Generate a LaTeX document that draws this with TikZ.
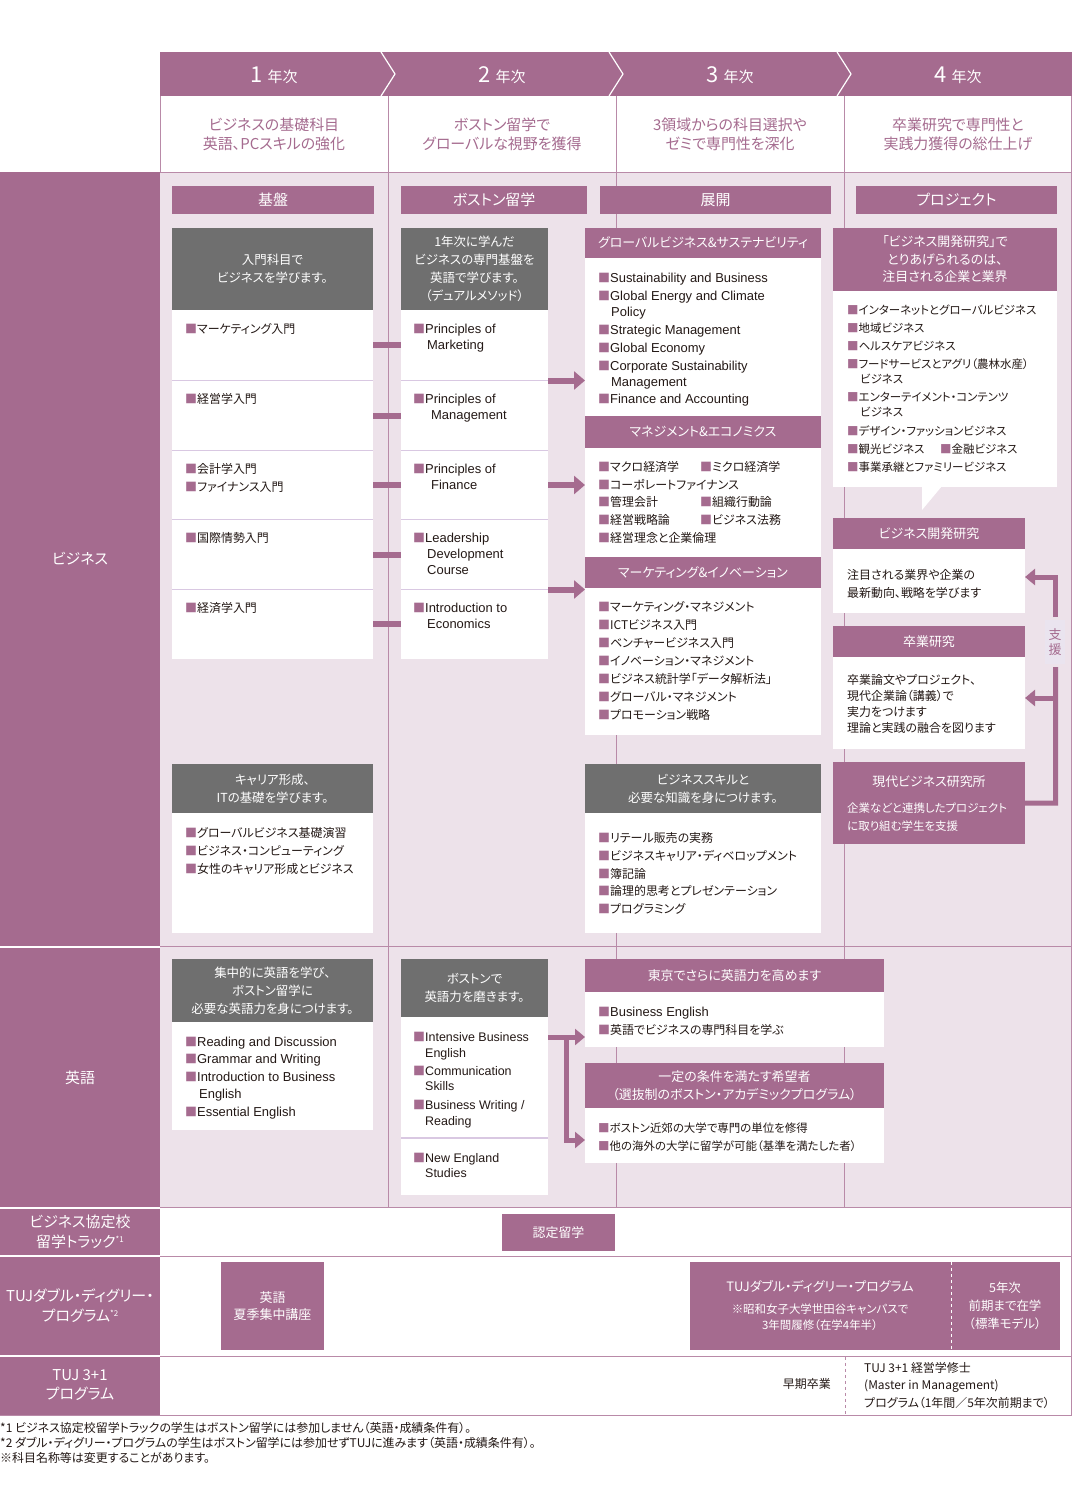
\documentclass[tikz,border=0pt]{standalone}
\usepackage{fontspec}
\setmainfont{Noto Sans CJK JP}[RawFeature=+palt]
\newfontfamily\enf{Liberation Sans}
\usetikzlibrary{arrows.meta,calc}
\definecolor{pur}{HTML}{A56B8F}
\definecolor{bgp}{HTML}{EDE2EA}
\definecolor{gry}{HTML}{6F6F6F}
\definecolor{sepc}{HTML}{D9C8E2}
\definecolor{gridc}{HTML}{B98AA8}
\definecolor{txt}{HTML}{231815}
\definecolor{shien}{HTML}{EAE4EF}
\newcommand\fsz[2]{\fontsize{#1}{#2}\selectfont}
\newcommand\bu{\textcolor{pur}{■}}
\newcommand\en{\enf\fontsize{13}{13}\selectfont}
\newcommand\ens{\enf\fontsize{12.5}{12.5}\selectfont}
\newcommand\bx[7]{\node[#6,inner sep=0pt,outer sep=0pt,anchor=north west,minimum width={#4bp-#2bp},minimum height={#5bp-#3bp}] (#1) at (#2,#3) {#7};}
\newcommand\lst[3][]{\foreach[count=\i] \xx/\yy/\tx in {#3} {\node[itm,#1] (#2-\i) at (\xx,\yy) {\tx};}}
\begin{document}
\begin{tikzpicture}[x=1bp,y=-1bp,
 itm/.style={anchor=west,inner sep=0pt,text=txt,font=\fsz{12}{12},text height=8bp,text depth=0bp},
 phd/.style={fill=pur,text=white,align=center,font=\fsz{15}{19}},
 phb/.style={fill=pur,text=white,align=center,font=\fsz{13}{17.5}},
 ghd/.style={fill=gry,text=white,align=center,font=\fsz{12.5}{18}},
 wb/.style={fill=white},
 gline/.style={draw=gridc,line width=1bp},
 sline/.style={draw=sepc,line width=1.2bp},
 bar/.style={draw=pur,line width=6bp},
 arr/.style={draw=pur,line width=6bp,-{Triangle[length=11bp,width=18bp]}},
 conn/.style={draw=pur,line width=5bp},
 carr/.style={draw=pur,line width=5bp,-{Triangle[length=10bp,width=16bp]}},
 lab/.style={text=white,align=center,font=\fsz{15}{20},inner sep=0pt},
 sub/.style={text=pur,align=center,font=\fsz{15}{19},inner sep=0pt},
]
\useasboundingbox (0,0) rectangle (1072,1498);
\fill[white] (0,0) rectangle (1072,1498);
% body background and left labels
\fill[bgp] (160,172) rectangle (1072,1207);
\fill[pur] (0,172) rectangle (160,946);
\fill[pur] (0,948) rectangle (160,1207);
\fill[pur] (0,1209) rectangle (160,1255);
\fill[pur] (0,1257) rectangle (160,1355);
\fill[pur] (0,1357) rectangle (160,1415);
% grid lines
\draw[gline] (160.5,96) -- (160.5,172);
\foreach \gx in {388,616,844} \draw[gline] (\gx,96) -- (\gx,1207);
\draw[gline] (1071.5,96) -- (1071.5,1415);
\draw[gline] (160,172.5) -- (1072,172.5);
\draw[gline] (160,946.5) -- (1072,946.5);
\draw[gline] (160,1207.5) -- (1072,1207.5);
\draw[gline] (160,1256) -- (1072,1256);
\draw[gline] (160,1356) -- (1072,1356);
\draw[gline] (0,1415.5) -- (1072,1415.5);
% header band
\fill[pur] (160,52) rectangle (1072,96);
\foreach \d in {388,616,844} \draw[white,line width=1.2bp] (\d-7,52) -- (\d+7,74) -- (\d-7,96);
\foreach \n/\cx in {1/274,2/502,3/730,4/958}
  \node[text=white,inner sep=0pt] (yr\n) at (\cx,75) {\fsz{22}{22}\n\hspace{5bp}\fsz{15}{15}年次};
\node[sub] (sub1) at (274,134) {ビジネスの基礎科目\\英語、PCスキルの強化};
\node[sub] (sub2) at (502,134) {ボストン留学で\\グローバルな視野を獲得};
\node[sub] (sub3) at (730,134) {3領域からの科目選択や\\ゼミで専門性を深化};
\node[sub] (sub4) at (958,134) {卒業研究で専門性と\\実践力獲得の総仕上げ};
% left labels
\node[lab] (lbiz) at (80,559) {ビジネス};
\node[lab] (leng) at (80,1078) {英語};
\node[lab] (lkyo) at (80,1232) {ビジネス協定校\\留学トラック\raisebox{5bp}{\fsz{8}{8}*1}};
\node[lab] (ltuj) at (80,1306) {TUJダブル・ディグリー・\\プログラム\raisebox{5bp}{\fsz{8}{8}*2}};
\node[lab] (l31) at (80,1385) {TUJ 3+1\\プログラム};
% section headers
\bx{hk}{172}{186}{374}{214}{phd}{基盤}
\bx{hb}{401}{186}{587}{214}{phd}{ボストン留学}
\bx{ht}{600}{186}{831}{214}{phd}{展開}
\bx{hp}{856}{186}{1057}{214}{phd}{プロジェクト}
% column 1 business
\bx{a0}{172}{228}{373}{310}{ghd}{入門科目で\\ビジネスを学びます。}
\bx{a1}{172}{310}{373}{380.5}{wb}{}
\bx{a2}{172}{380.5}{373}{450.5}{wb}{}
\bx{a3}{172}{450.5}{373}{519.5}{wb}{}
\bx{a4}{172}{519.5}{373}{589.5}{wb}{}
\bx{a5}{172}{589.5}{373}{659}{wb}{}
% column 2 business
\bx{b0}{401}{228}{548}{310}{ghd}{1年次に学んだ\\ビジネスの専門基盤を\\英語で学びます。\\（デュアルメソッド）}
\bx{b1}{401}{310}{548}{380.5}{wb}{}
\bx{b2}{401}{380.5}{548}{450.5}{wb}{}
\bx{b3}{401}{450.5}{548}{519.5}{wb}{}
\bx{b4}{401}{519.5}{548}{589.5}{wb}{}
\bx{b5}{401}{589.5}{548}{659}{wb}{}
\foreach \sy in {380.5,450.5,519.5,589.5} \draw[sline] (172,\sy) -- (373,\sy) (401,\sy) -- (548,\sy);
\foreach \k in {1,...,5} \draw[bar] (a\k.east) -- (b\k.west);
% column 3 business
\bx{g1}{585}{228}{821}{258}{phb}{グローバルビジネス\&サステナビリティ}
\bx{g1b}{585}{258}{821}{416}{wb}{}
\bx{g2}{585}{416}{821}{448}{phb}{マネジメント\&エコノミクス}
\bx{g2b}{585}{448}{821}{557}{wb}{}
\bx{g3}{585}{557}{821}{588}{phb}{マーケティング\&イノベーション}
\bx{g3b}{585}{588}{821}{735}{wb}{}
\draw[arr] (b1.south east) -- (b1.south east -| g1b.west);
\draw[arr] (b3.east) -- (b3.east -| g2b.west);
\draw[arr] (b4.south east) -- (b4.south east -| g3b.west);
% lower business boxes
\bx{k0}{172}{764}{373}{813}{ghd}{キャリア形成、\\ITの基礎を学びます。}
\bx{k1}{172}{813}{373}{933}{wb}{}
\bx{s0}{585}{764}{821}{813}{ghd}{ビジネススキルと\\必要な知識を身につけます。}
\bx{s1}{585}{813}{821}{933}{wb}{}
% column 4
\bx{p0}{833}{228}{1057}{291}{phb}{「ビジネス開発研究」で\\とりあげられるのは、\\注目される企業と業界}
\bx{p1}{833}{291}{1057}{487}{wb}{}
\fill[white] (922,486) -- (922,510) -- (942,486) -- cycle;
\bx{q0}{833}{518}{1025}{549}{phb}{ビジネス開発研究}
\bx{q1}{833}{549}{1025}{613}{wb}{}
\bx{r0}{833}{626}{1025}{657}{phb}{卒業研究}
\bx{r1}{833}{657}{1025}{749}{wb}{}
\bx{m0}{833}{762}{1025}{844}{fill=pur}{}
\node[text=white,inner sep=0pt,font=\fsz{13}{13}] (mt) at (929,782) {現代ビジネス研究所};
\node[itm,text=white,font=\fsz{11.5}{11.5}] (mt1) at (847,808) {企業などと連携したプロジェクト};
\node[itm,text=white,font=\fsz{11.5}{11.5}] (mt2) at (847,826) {に取り組む学生を支援};
\coordinate (sp1) at (1055.5,803);
\draw[conn] (m0.east) -- (sp1) -- (1055.5,667);
\draw[carr] (1055.5,617) -- (1055.5,577) -- (q1.east |- 0,577);
\draw[carr] (1055.5,698) -- (r1.east |- 0,698);
\node[fill=shien,inner sep=0pt,minimum width=20bp,minimum height=44bp,text=pur,align=center,font=\fsz{13}{15}] (shien) at (1055,642) {支\\援};
% English section
\bx{e0}{172}{959}{373}{1022}{ghd}{集中的に英語を学び、\\ボストン留学に\\必要な英語力を身につけます。}
\bx{e1}{172}{1022}{373}{1130}{wb}{}
\bx{f0}{401}{959}{548}{1017}{ghd}{ボストンで\\英語力を磨きます。}
\bx{f1}{401}{1017}{548}{1138}{wb}{}
\bx{f2}{401}{1139}{548}{1195}{wb}{}
\draw[sline] (f1.south west) -- (f1.south east);
\bx{t0}{585}{959}{884}{992}{phb}{東京でさらに英語力を高めます}
\bx{t1}{585}{992}{884}{1047}{wb}{}
\bx{u0}{585}{1063}{884}{1108}{phb}{一定の条件を満たす希望者\\（選抜制のボストン・アカデミックプログラム）}
\bx{u1}{585}{1108}{884}{1163}{wb}{}
\coordinate (ea) at (548,1037);
\coordinate (eb) at (566,1037);
\draw[carr] (ea) -- (ea -| t1.west);
\draw[carr] (eb) -- (566,1140) -- (u1.west |- 0,1140);
% bottom rows
\bx{nt}{502}{1214}{615}{1251}{phb}{認定留学}
\bx{ks}{221}{1262}{324}{1350}{phb}{英語\\夏季集中講座}
\bx{dd}{690}{1262}{1060}{1350}{fill=pur}{}
\draw[white,dashed,line width=0.8bp] (951,1262) -- (951,1350);
\node[text=white,inner sep=0pt,font=\fsz{13}{13}] (dd1) at (820,1286) {TUJダブル・ディグリー・プログラム};
\node[text=white,inner sep=0pt,align=center,font=\fsz{11.5}{16}] (dd2) at (820,1317) {※昭和女子大学世田谷キャンパスで\\3年間履修（在学4年半）};
\node[text=white,inner sep=0pt,align=center,font=\fsz{12.5}{18}] (dd3) at (1005,1306) {5年次\\前期まで在学\\（標準モデル）};
\node[itm,anchor=east] (sk) at (831,1384) {早期卒業};
\draw[gridc,dashed,line width=0.8bp] (845,1357) -- (845,1415);
\lst{tm}{864/1368/{TUJ 3+1 経営学修士}, 864/1385/{(Master in Management)}, 864/1403/{プログラム（1年間／5年次前期まで）}}
% item lists
\lst{ai}{185/329/{\bu マーケティング入門}, 185/399/{\bu 経営学入門}, 185/469/{\bu 会計学入門}, 185/487/{\bu ファイナンス入門}, 185/538/{\bu 国際情勢入門}, 185/608/{\bu 経済学入門}}
\lst{bi}{413/329/{\bu\en Principles of}, 427/345/{\en Marketing}, 413/399/{\bu\en Principles of}, 431/415/{\en Management}, 413/469/{\bu\en Principles of}, 431/485/{\en Finance}, 413/538/{\bu\en Leadership}, 427/554/{\en Development}, 427/570/{\en Course}, 413/608/{\bu\en Introduction to}, 427/624/{\en Economics}}
\lst{gi}{598/278/{\bu\en Sustainability and Business}, 598/296/{\bu\en Global Energy and Climate}, 611/312/{\en Policy}, 598/330/{\bu\en Strategic Management}, 598/348/{\bu\en Global Economy}, 598/366/{\bu\en Corporate Sustainability}, 611/382/{\en Management}, 598/399/{\bu\en Finance and Accounting}}
\lst{mi}{598/467/{\bu マクロ経済学}, 700/467/{\bu ミクロ経済学}, 598/485/{\bu コーポレートファイナンス}, 598/502/{\bu 管理会計}, 700/502/{\bu 組織行動論}, 598/520/{\bu 経営戦略論}, 700/520/{\bu ビジネス法務}, 598/538/{\bu 経営理念と企業倫理}}
\lst{ni}{598/607/{\bu マーケティング・マネジメント}, 598/625/{\bu ICTビジネス入門}, 598/643/{\bu ベンチャービジネス入門}, 598/661/{\bu イノベーション・マネジメント}, 598/679/{\bu ビジネス統計学「データ解析法」}, 598/697/{\bu グローバル・マネジメント}, 598/715/{\bu プロモーション戦略}}
\lst{ki}{185/833/{\bu グローバルビジネス基礎演習}, 185/851/{\bu ビジネス・コンピューティング}, 185/869/{\bu 女性のキャリア形成とビジネス}}
\lst{si}{598/838/{\bu リテール販売の実務}, 598/856/{\bu ビジネスキャリア・ディベロップメント}, 598/874/{\bu 簿記論}, 598/891/{\bu 論理的思考とプレゼンテーション}, 598/909/{\bu プログラミング}}
\lst[font=\fsz{11.5}{11.5}]{pi}{847/310/{\bu インターネットとグローバルビジネス}, 847/328/{\bu 地域ビジネス}, 847/346/{\bu ヘルスケアビジネス}, 847/364/{\bu フードサービスとアグリ（農林水産）}, 860/379/{ビジネス}, 847/397/{\bu エンターテイメント・コンテンツ}, 860/412/{ビジネス}, 847/431/{\bu デザイン・ファッションビジネス}, 847/449/{\bu 観光ビジネス}, 940/449/{\bu 金融ビジネス}, 847/467/{\bu 事業承継とファミリービジネス}}
\lst{qi}{847/575/{注目される業界や企業の}, 847/593/{最新動向、戦略を学びます}}
\lst{ri}{847/680/{卒業論文やプロジェクト、}, 847/696/{現代企業論（講義）で}, 847/712/{実力をつけます}, 847/728/{理論と実践の融合を図ります}}
\lst{ei}{185/1042/{\bu\en Reading and Discussion}, 185/1059/{\bu\en Grammar and Writing}, 185/1077/{\bu\en Introduction to Business}, 199/1094/{\en English}, 185/1112/{\bu\en Essential English}}
\lst{fi}{413/1037/{\bu\ens Intensive Business}, 425/1053/{\ens English}, 413/1071/{\bu\ens Communication}, 425/1086/{\ens Skills}, 413/1105/{\bu\ens Business Writing /}, 425/1121/{\ens Reading}, 413/1158/{\bu\ens New England}, 425/1173/{\ens Studies}}
\lst{ti}{598/1012/{\bu\en Business English}, 598/1030/{\bu 英語でビジネスの専門科目を学ぶ}}
\lst[font=\fsz{11.5}{11.5}]{ui}{598/1128/{\bu ボストン近郊の大学で専門の単位を修得}, 598/1146/{\bu 他の海外の大学に留学が可能（基準を満たした者）}}
% footnotes
\lst[font=\fsz{12}{12}]{fn}{0/1428/{*1 ビジネス協定校留学トラックの学生はボストン留学には参加しません（英語・成績条件有）。}, 0/1443/{*2 ダブル・ディグリー・プログラムの学生はボストン留学には参加せずTUJに進みます（英語・成績条件有）。}, 0/1458/{※科目名称等は変更することがあります。}}
\end{tikzpicture}
\end{document}
